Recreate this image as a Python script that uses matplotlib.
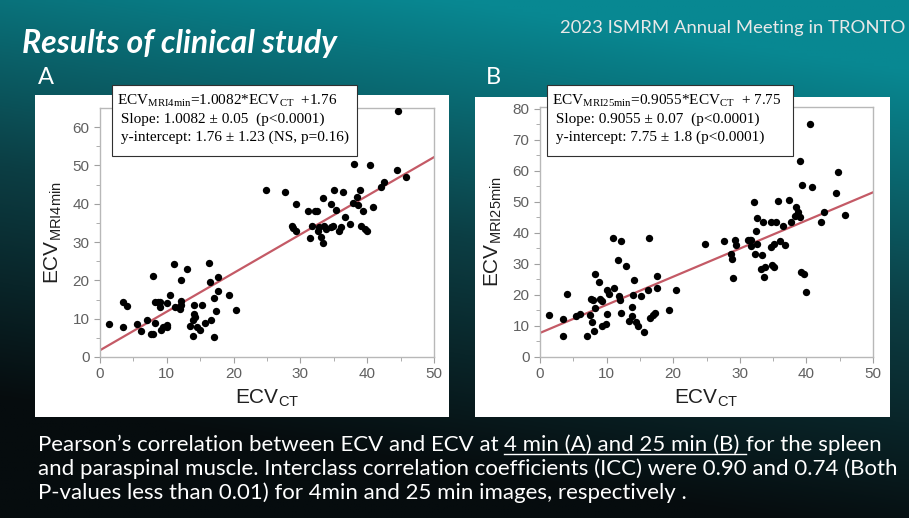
import numpy as np
import matplotlib
matplotlib.use("Agg")
import matplotlib.pyplot as plt
from matplotlib.patches import Rectangle
from matplotlib.lines import Line2D

# Panel A: ECV_CT vs ECV_MRI (4 min)
ct_a = [1.4, 3.5, 3.5, 4.1, 5.5, 6.1, 7.1, 7.7, 8.0, 7.9, 8.2, 8.2, 8.7, 9.0, 9.0, 9.2,
        9.5, 10.0, 10.1, 10.0, 10.5, 11.1, 11.3, 12.0, 12.1, 12.1, 12.2, 13.0, 13.5, 13.9,
        14.0, 13.9, 14.1, 14.2, 14.5, 14.9, 15.3, 15.7, 16.3, 16.5, 16.6, 17.0, 17.0, 17.4,
        17.6, 17.6, 19.3, 20.4, 24.8, 27.7, 28.8, 28.9, 29.4, 29.4, 31.2, 31.5, 31.7, 32.2,
        32.5, 32.6, 32.8, 33.1, 33.4, 33.4, 33.6, 33.9, 34.6, 34.6, 34.9, 35.1, 35.4, 35.8,
        36.1, 36.4, 36.7, 37.4, 38.0, 37.8, 38.4, 38.6, 38.9, 39.1, 39.4, 39.6, 39.9, 40.4,
        40.8, 42.1, 42.5, 44.4, 44.6, 45.8]
mri_a = [8.6, 14.3, 7.8, 13.2, 8.6, 6.7, 9.6, 6.0, 6.0, 21.1, 14.3, 8.9, 14.3, 14.3, 13.0, 7.1,
         7.8, 7.8, 8.4, 14.1, 16.1, 24.3, 13.0, 12.6, 20.2, 14.5, 13.5, 23.0, 8.0, 9.6,
         13.5, 5.4, 11.3, 10.4, 7.8, 7.1, 13.5, 9.0, 24.5, 19.7, 9.6, 15.4, 5.2, 12.0,
         17.2, 20.8, 16.1, 12.3, 43.7, 43.0, 34.3, 33.7, 40.0, 33.0, 38.2, 31.0, 34.3, 38.2,
         38.2, 33.0, 33.9, 31.3, 41.5, 29.8, 34.2, 33.4, 40.0, 33.9, 34.3, 43.7, 38.5, 33.0,
         33.9, 43.0, 36.5, 34.8, 50.4, 40.3, 41.7, 39.6, 43.7, 34.2, 38.0, 33.5, 33.0, 50.0,
         39.1, 44.3, 45.7, 48.7, 64.1, 47.0]

# Panel B: ECV_CT vs ECV_MRI (25 min)
ct_b = [1.35, 3.5, 3.4, 4.05, 5.4, 6.0, 7.0, 7.5, 7.85, 7.7, 8.0, 8.25, 8.15, 8.25, 8.9, 9.0,
        9.25, 9.25, 9.85, 10.0, 10.0, 10.4, 11.0, 11.15, 11.75, 11.9, 12.0, 12.1, 12.15, 12.85,
        13.4, 13.75, 13.85, 14.0, 14.1, 14.35, 14.75, 15.1, 15.6, 16.15, 16.4, 16.5, 16.9,
        17.25, 17.5, 17.5, 19.3, 20.4, 24.7, 27.65, 28.75, 28.8, 29.0, 29.35, 29.4, 31.25,
        31.6, 31.65, 31.75, 32.15, 32.25, 32.5, 32.6, 32.65, 33.25, 33.35, 33.5, 33.6, 33.75,
        34.65, 34.65, 34.85, 35.1, 35.15, 35.4, 35.75, 36.0, 36.5, 36.75, 37.4, 37.75, 38.25,
        38.4, 38.75, 39.0, 39.0, 39.15, 39.4, 39.65, 39.9, 40.5, 40.85, 42.15, 42.6, 44.5,
        44.75, 45.85]
mri_b = [13.6, 12.3, 6.7, 20.2, 13.3, 13.9, 6.9, 13.6, 11.2, 18.7, 18.2, 26.8, 8.4, 15.7, 24.2, 18.7,
         18.0, 10.0, 10.7, 13.9, 21.6, 20.3, 38.2, 22.2, 31.3, 19.8, 18.5, 37.4, 14.1, 29.2,
         11.6, 13.1, 16.1, 20.1, 24.8, 11.3, 9.9, 19.8, 8.0, 21.6, 38.2, 12.6, 13.4,
         14.1, 26.2, 22.3, 15.0, 21.7, 36.3, 37.3, 33.2, 31.6, 25.4, 37.7, 36.1, 37.7,
         37.7, 35.7, 37.7, 49.8, 33.2, 40.7, 36.5, 44.6, 28.4, 33.0, 43.5, 25.9, 28.9,
         35.5, 43.4, 29.6, 28.9, 36.3, 43.4, 50.3, 37.3, 42.1, 36.2, 50.5, 43.4, 45.5,
         48.4, 46.7, 63.0, 45.0, 27.3, 55.5, 26.8, 20.9, 74.9, 54.8, 43.4, 46.8, 52.8,
         59.7, 45.8]

fit_a = (1.0082, 1.76)
fit_b = (0.9055, 7.75)

W, H = 909, 518
fig = plt.figure(figsize=(W / 100, H / 100), dpi=100)

# background gradient (teal at top, almost black at bottom)
yy, xx = np.mgrid[0:1:200j, 0:1:300j]
t = np.clip(yy * 1.1 + (1 - xx) * 0.3 - 0.15, 0, 1)
top = np.array([8, 136, 146]) / 255
mid = np.array([12, 62, 68]) / 255
bot = np.array([6, 12, 14]) / 255
t3 = t[..., None]
img = np.where(t3 < 0.5, top + (mid - top) * (t3 / 0.5), mid + (bot - mid) * ((t3 - 0.5) / 0.5))
bg = fig.add_axes([0, 0, 1, 1], zorder=-10)
bg.imshow(img, extent=[0, 1, 0, 1], aspect="auto", origin="upper")
bg.set_axis_off()


def px(x0, y0, x1, y1):
    # pixel box -> figure fraction rect
    return [x0 / W, 1 - y1 / H, (x1 - x0) / W, (y1 - y0) / H]


for box in [(35, 95, 449, 417), (475, 97, 890, 417)]:
    r = px(*box)
    fig.add_artist(Rectangle((r[0], r[1]), r[2], r[3], transform=fig.transFigure,
                             facecolor="white", edgecolor="none", zorder=0))

sans = "Liberation Sans"
serif = "Liberation Serif"


def scatter_panel(rect, ct, mri, fit, ymax, yticks, ylab):
    ax = fig.add_axes(rect)
    ax.scatter(ct, mri, s=28, color="black", zorder=3, linewidths=0)
    xs = np.array([0, 50])
    ax.plot(xs, fit[0] * xs + fit[1], color="#c45a66", lw=1.6, zorder=2)
    ax.set_xlim(0, 50)
    ax.set_ylim(0, ymax)
    ax.set_xticks(range(0, 51, 10))
    ax.set_xticks(range(5, 50, 10), minor=True)
    ax.set_yticks(yticks)
    ax.set_yticks([v + 5 for v in yticks if v + 5 < ymax], minor=True)
    for s in ax.spines.values():
        s.set_color("#b8b8b8")
        s.set_linewidth(1.0)
    ax.tick_params(which="both", direction="out", color="#a0a0a0", labelcolor="#606060",
                   labelsize=11, length=4)
    ax.tick_params(which="minor", length=3)
    for lab in ax.get_xticklabels() + ax.get_yticklabels():
        lab.set_family(sans)
    ax.set_xlabel(r"ECV$_{\mathregular{CT}}$", fontsize=15, family=sans, color="#202020", labelpad=4)
    ax.set_ylabel(ylab, fontsize=15, family=sans, color="#202020", labelpad=6)
    return ax


ax_a = scatter_panel(px(100, 108, 434, 357), ct_a, mri_a, fit_a, 65, list(range(0, 61, 10)),
                     r"ECV$_{\mathregular{MRI4min}}$")
ax_b = scatter_panel(px(540, 107, 873, 357), ct_b, mri_b, fit_b, 80.5, list(range(0, 81, 10)),
                     r"ECV$_{\mathregular{MRI25min}}$")

# equation boxes (they stick out above the white panels)
boxes = [
    ((112, 85, 357, 156), [r"ECV$_{\mathregular{MRI4min}}$=1.0082*ECV$_{\mathregular{CT}}$  +1.76",
                           " Slope: 1.0082 \u00b1 0.05  (p<0.0001)",
                           " y-intercept: 1.76 \u00b1 1.23 (NS, p=0.16)"]),
    ((547, 85, 793, 156), [r"ECV$_{\mathregular{MRI25min}}$=0.9055*ECV$_{\mathregular{CT}}$  + 7.75",
                           " Slope: 0.9055 \u00b1 0.07  (p<0.0001)",
                           " y-intercept: 7.75 \u00b1 1.8 (p<0.0001)"]),
]
for (x0, y0, x1, y1), lines in boxes:
    r = px(x0, y0, x1, y1)
    fig.add_artist(Rectangle((r[0], r[1]), r[2], r[3], transform=fig.transFigure,
                             facecolor="white", edgecolor="#303030", lw=0.8, zorder=5))
    for i, line in enumerate(lines):
        fig.text((x0 + 5) / W, 1 - (y0 + 19 + i * 18.5) / H, line, family=serif,
                 fontsize=11, color="black", va="baseline", ha="left", zorder=6)

# slide texts
fig.text(22 / W, 1 - 53 / H, "Results of clinical study", family="Lato", fontsize=23,
         fontweight="bold", fontstyle="italic", color="white")
fig.text(905 / W, 1 - 33 / H, "2023 ISMRM Annual Meeting in TRONTO", family="Lato",
         fontsize=13.3, color="#e8e8e8", ha="right")
fig.text(38 / W, 1 - 84 / H, "A", family="Lato", fontsize=17, color="white")
fig.text(486 / W, 1 - 84 / H, "B", family="Lato", fontsize=17, color="white")

cap_kw = dict(family="Lato", fontsize=16, color="white", va="baseline")
y1 = 1 - 451 / H
parts = ["Pearson\u2019s correlation between ECV and ECV at ", "4 min (A) and 25 min (B) ",
         "for the spleen"]
fig.canvas.draw()
renderer = fig.canvas.get_renderer()
xcur = 38 / W
for i, p in enumerate(parts):
    tx = fig.text(xcur, y1, p, **cap_kw)
    bb = tx.get_window_extent(renderer).transformed(fig.transFigure.inverted())
    if i == 1:
        fig.add_artist(Line2D([xcur, bb.x1], [y1 - 3 / H, y1 - 3 / H], color="white", lw=1.0,
                              transform=fig.transFigure))
    xcur = bb.x1
fig.text(38 / W, 1 - 475 / H, "and paraspinal muscle. Interclass correlation coefficients (ICC) were 0.90 and 0.74 (Both",
         **cap_kw)
fig.text(38 / W, 1 - 499 / H, "P-values less than 0.01) for 4min and 25 min images, respectively .", **cap_kw)

fig.savefig("out.png", dpi=100)
